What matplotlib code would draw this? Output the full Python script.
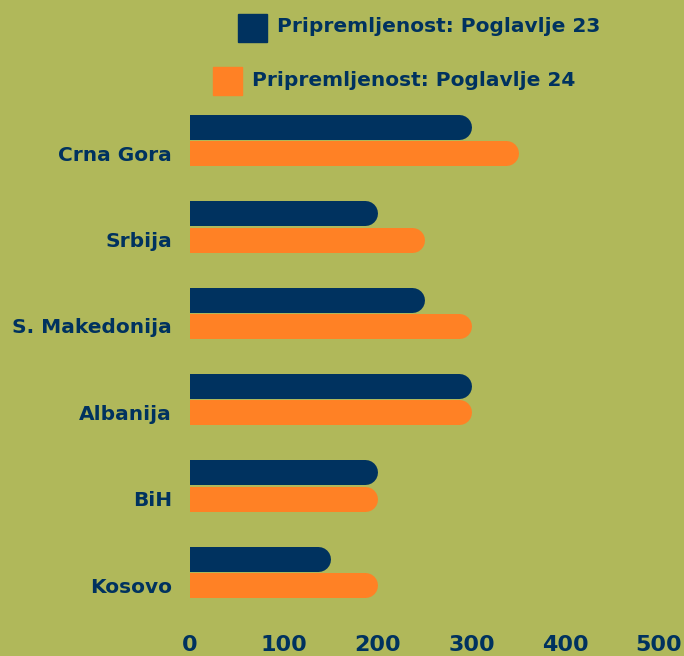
import numpy as np
import matplotlib.pyplot as plt
from matplotlib.patches import Rectangle

countries = ["Crna Gora", "Srbija", "S. Makedonija", "Albanija", "BiH", "Kosovo"]
ch23 = [300, 200, 250, 300, 200, 150]
ch24 = [350, 250, 300, 300, 200, 200]
labels = ["Pripremljenost: Poglavlje 23", "Pripremljenost: Poglavlje 24"]

BG = "#b0b85a"
NAVY = "#00325f"
ORANGE = "#ff8125"

plt.rcParams["font.family"] = ["DejaVu Sans"]
plt.rcParams["font.weight"] = "bold"

fig = plt.figure(figsize=(6.84, 6.56), dpi=100, facecolor=BG)
ax = fig.add_axes([190 / 684, 1 - 620 / 656, 469 / 684, 520 / 656])
ax.set_facecolor(BG)

ax.set_xlim(0, 500)
ax.set_ylim(5.556, -0.463)

# bar thickness in pixels -> points, and cap radius in data units
bar_px = 25
lw = bar_px * 72 / fig.dpi
px_per_unit = 469 / 500
r = (bar_px / 2) / px_per_unit

y = np.arange(len(countries))
off = 0.152
for yi, a, b in zip(y, ch23, ch24):
    ax.hlines(yi - off, -r, a - r, color=NAVY, lw=lw)
    ax.hlines(yi + off, -r, b - r, color=ORANGE, lw=lw)
for coll in ax.collections:
    coll.set_capstyle("round")

# category labels sit level with the orange bars
ax.set_yticks(y + off)
ax.set_yticklabels(countries)
ax.set_xticks([0, 100, 200, 300, 400, 500])
ax.tick_params(axis="both", length=0, labelcolor=NAVY, labelsize=14.5)
ax.tick_params(axis="y", pad=13)
ax.tick_params(axis="x", pad=11)
for lab in ax.get_xticklabels():
    lab.set_fontsize(16)
for s in ax.spines.values():
    s.set_visible(False)

# legend
fig.patches.append(Rectangle((238 / 684, 1 - 42 / 656), 29 / 684, 28 / 656,
                             transform=fig.transFigure, color=NAVY))
fig.text(277 / 684, 1 - 27 / 656, labels[0], color=NAVY, fontsize=14.5,
         fontweight="bold", va="center", ha="left")
fig.patches.append(Rectangle((213 / 684, 1 - 95 / 656), 29 / 684, 28 / 656,
                             transform=fig.transFigure, color=ORANGE))
fig.text(252 / 684, 1 - 80 / 656, labels[1], color=NAVY, fontsize=14.5,
         fontweight="bold", va="center", ha="left")

fig.savefig("out.png", dpi=100, facecolor=BG)
